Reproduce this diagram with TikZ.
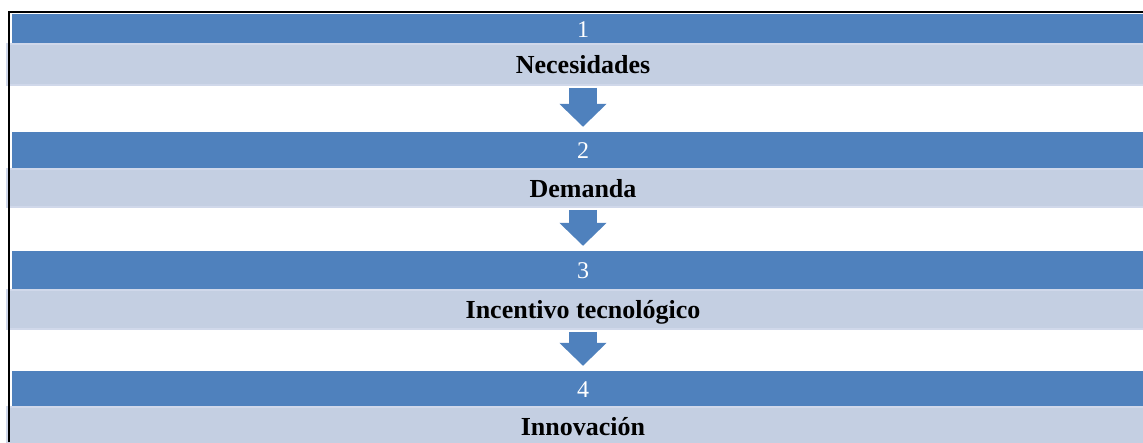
\documentclass[tikz,border=0pt]{standalone}
\usepackage{fontspec}
\setmainfont{Liberation Serif}
\usetikzlibrary{arrows.meta}
\definecolor{barblue}{HTML}{4F81BD}
\definecolor{bandgrey}{HTML}{C4CFE2}
\definecolor{bandedge}{HTML}{D0D8EA}
\begin{document}
\begin{tikzpicture}[x=1pt,y=-1pt]
      \useasboundingbox (0,0) rectangle (1143,442);
      \begin{scope}[every node/.style={rectangle,fill=barblue,text=white,inner sep=0pt,
          minimum width=1142pt,text height=16pt,text depth=0pt,
          font=\fontsize{24}{24}\selectfont}]
        \node[minimum height=30pt] (b1) at (583,29) {1};
        \node[minimum height=37pt] (b2) at (583,150.5) {2};
        \node[minimum height=39pt] (b3) at (583,270.5) {3};
        \node[minimum height=36pt] (b4) at (583,389) {4};
      \end{scope}
      \begin{scope}[every node/.style={rectangle,fill=bandgrey,draw=bandedge,line width=1.5pt,
          inner sep=0pt,minimum width=1152pt,text height=18pt,text depth=0pt,
          font=\fontsize{26}{26}\selectfont\bfseries}]
        \node[minimum height=41pt] (l1) at (583,64.5) {Necesidades};
        \node[minimum height=38pt] (l2) at (583,188) {Demanda};
        \node[minimum height=39pt] (l3) at (583,309.5) {Incentivo tecnológico};
        \node[minimum height=38pt] (l4) at (583,426) {Innovación};
      \end{scope}
      \begin{scope}[every edge/.style={draw=barblue,line width=28pt,
          -{Triangle[width=46pt,length=23pt]},shorten <=2pt,shorten >=5pt}]
        \path (l1) edge (b2);
        \path (l2) edge (b3);
        \path (l3) edge (b4);
      \end{scope}
      \draw[line width=2pt] (9,442) -- (9,11.5) -- (1143,11.5);
    \end{tikzpicture}
\end{document}
